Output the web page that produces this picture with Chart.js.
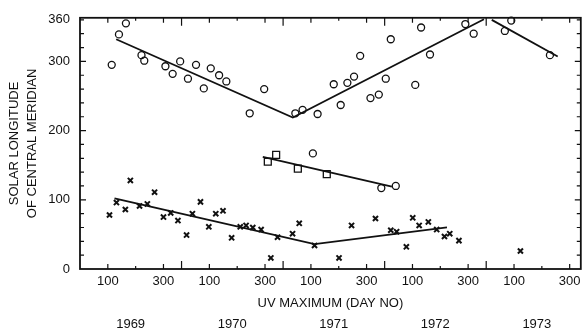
<!DOCTYPE html>
<html>
<head>
<meta charset="utf-8">
<script src="https://cdn.jsdelivr.net/npm/chart.js@4"></script>
<style>
  html, body { margin: 0; padding: 0; background: #fff; }
  #wrap { width: 587px; height: 334px; }
</style>
</head>
<body>
<div id="wrap"><canvas id="uvChart" width="587" height="334"></canvas></div>
<script>
// Day numbers are counted from 1 Jan 1969 (365 days per year on this axis)
const years = ["1969", "1970", "1971", "1972", "1973"];
const dayTickLabels = ["100", "300"];

// Open circles
const circleDay = [114, 140, 165, 221, 231, 307, 333, 360, 388, 417, 445, 470, 500, 526, 610, 662,
    774, 800, 854, 912, 937, 961, 985, 1007, 1044, 1074, 1099, 1117, 1205, 1226, 1258, 1385,
    1415, 1527, 1550, 1689, 837, 1083, 1135];
const circleLon = [295, 339, 355, 309, 301, 293, 282, 300, 275, 295, 261, 290, 280, 271, 225, 260,
    225, 230, 224, 267, 237, 269, 278, 308, 247, 252, 275, 332, 266, 349, 310, 354,
    340, 344, 359, 309, 167, 117, 120];

// Open squares
const squareDay = [675, 705, 783, 887];
const squareLon = [155, 165, 145, 137];

// Crosses
const crossDay = [106, 131, 163, 181, 214, 242, 268, 300, 326, 352, 383, 404, 433, 463, 488, 514,
    545, 576, 597, 621, 651, 686, 710, 764, 788, 843, 931, 976, 1062, 1117, 1138, 1173,
    1196, 1219, 1252, 1282, 1310, 1329, 1362, 1583];
const crossLon = [78, 96, 86, 128, 91, 94, 111, 75, 81, 70, 49, 80, 97, 61, 80, 84,
    45, 61, 63, 60, 57, 16, 46, 51, 66, 34, 16, 63, 73, 56, 54, 32,
    74, 63, 68, 57, 47, 51, 41, 26];

// Fitted lines
const circleFitADay = [130, 765, 1452];
const circleFitALon = [332, 219, 361];
const circleFitBDay = [1480, 1717];
const circleFitBLon = [360, 307];
const squareFitDay = [657, 1121];
const squareFitLon = [162, 119];
const crossFitDay = [124, 843, 1319];
const crossFitLon = [102, 36, 60];

const ink = "#111";
const toPoints = (xs, ys) => xs.map((d, i) => ({ x: d, y: ys[i] }));

function markers(xs, ys, style, r, bw) {
    return {
        data: toPoints(xs, ys),
        pointStyle: style,
        pointRadius: r,
        pointBorderWidth: bw,
        pointBorderColor: ink,
        pointBackgroundColor: "rgba(0,0,0,0)",
        showLine: false,
        clip: false,
    };
}

function fitLine(xs, ys) {
    return {
        data: toPoints(xs, ys),
        showLine: true,
        borderColor: ink,
        borderWidth: 1.8,
        pointRadius: 0,
        fill: false,
        clip: false,
    };
}

// Inside tick marks and the box round the plot
const frameTicks = {
    id: "frameTicks",
    afterDatasetsDraw(chart) {
        const { ctx, chartArea: a, scales: { x, y } } = chart;
        ctx.save();
        ctx.strokeStyle = ink;
        ctx.lineWidth = 1.2;
        ctx.beginPath();
        for (let i = 0; i < years.length; i++) {
            for (let k = 0; k < 4; k++) {
                const d = i * 365 + k * 100;
                if (d <= 0 || d >= x.max) continue;
                const px = x.getPixelForValue(d);
                const len = k === 0 ? 8 : (k === 2 ? 3 : 5);
                ctx.moveTo(px, a.bottom); ctx.lineTo(px, a.bottom - len);
                ctx.moveTo(px, a.top); ctx.lineTo(px, a.top + len);
            }
        }
        for (let v = 20; v <= 360; v += 20) {
            const py = y.getPixelForValue(v);
            const len = v % 100 === 0 ? 6 : 4;
            ctx.moveTo(a.left, py); ctx.lineTo(a.left + len, py);
            ctx.moveTo(a.right, py); ctx.lineTo(a.right - len, py);
        }
        ctx.stroke();
        ctx.lineWidth = 1.8;
        ctx.strokeRect(a.left, a.top, a.right - a.left, a.bottom - a.top);
        ctx.restore();
    },
};

const font = { family: "'Liberation Sans', Arial, sans-serif", size: 13 };

new Chart(document.getElementById("uvChart"), {
    type: "scatter",
    data: {
        datasets: [
            markers(circleDay, circleLon, "circle", 3.5, 1.3),
            markers(squareDay, squareLon, "rect", 4.9, 1.3),
            markers(crossDay, crossLon, "crossRot", 3.6, 2),
            fitLine(circleFitADay, circleFitALon),
            fitLine(circleFitBDay, circleFitBLon),
            fitLine(squareFitDay, squareFitLon),
            fitLine(crossFitDay, crossFitLon),
        ],
    },
    options: {
        responsive: false,
        animation: false,
        devicePixelRatio: 1,
        layout: { padding: { top: 13, right: 3, left: 0, bottom: 0 } },
        plugins: { legend: { display: false }, tooltip: { enabled: false } },
        scales: {
            x: {
                type: "linear",
                position: "bottom",
                min: 0,
                max: 1800,
                grid: { display: false, drawTicks: false },
                border: { display: false },
                afterBuildTicks: (scale) => {
                    const t = [];
                    years.forEach((yr, i) => {
                        dayTickLabels.forEach((lab) => t.push({ value: i * 365 + Number(lab) }));
                    });
                    scale.ticks = t.filter((tk) => tk.value < 1800);
                },
                afterFit: (scale) => { scale.height = 42; },
                ticks: {
                    autoSkip: false,
                    maxRotation: 0,
                    padding: 5,
                    color: ink,
                    font: font,
                    callback: (v) => String(v % 365),
                },
                title: {
                    display: true,
                    text: "UV MAXIMUM (DAY NO)",
                    color: ink,
                    font: font,
                    padding: { top: 0, bottom: 0 },
                },
            },
            xYear: {
                type: "linear",
                position: "bottom",
                min: 0,
                max: 1800,
                grid: { display: false, drawTicks: false },
                border: { display: false },
                afterBuildTicks: (scale) => {
                    scale.ticks = years.map((yr, i) => ({ value: i * 365 + 182 }));
                },
                afterFit: (scale) => { scale.height = 23; },
                ticks: {
                    autoSkip: false,
                    maxRotation: 0,
                    padding: 6,
                    color: ink,
                    font: font,
                    callback: (v) => years[Math.round((v - 182) / 365)],
                },
            },
            y: {
                min: 0,
                max: 363,
                grid: { display: false, drawTicks: false },
                border: { display: false },
                afterBuildTicks: (scale) => {
                    scale.ticks = [0, 100, 200, 300, 360].map((v) => ({ value: v }));
                },
                afterFit: (scale) => { scale.width = 80; },
                ticks: { padding: 10, color: ink, font: font },
                title: {
                    display: true,
                    text: ["SOLAR LONGITUDE", "OF CENTRAL MERIDIAN"],
                    color: ink,
                    font: { family: font.family, size: 13, lineHeight: 1.42 },
                    padding: { top: 5, bottom: 0 },
                },
            },
        },
    },
    plugins: [frameTicks],
});
</script>
</body>
</html>
